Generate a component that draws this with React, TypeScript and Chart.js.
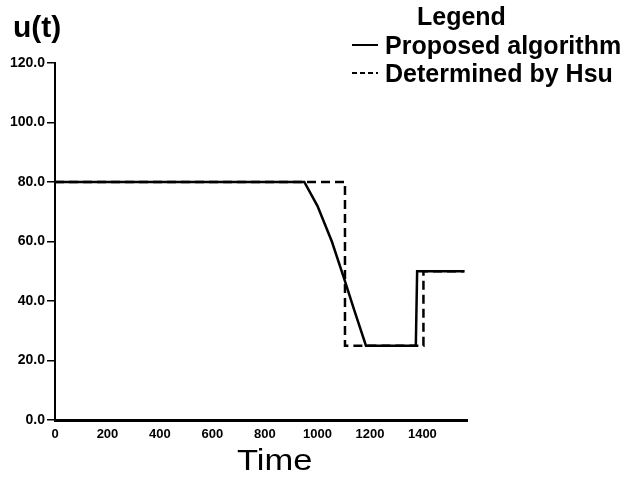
import React, { useEffect, useRef } from "react";
import { Chart, registerables } from "chart.js";

Chart.register(...registerables);

// ---- data ----
const proposedTime = [0, 950, 1000, 1055, 1100, 1140, 1185, 1375, 1380, 1560];
const proposedU = [80, 80, 72, 60, 48, 37, 25, 25, 50, 50];
const hsuTime = [0, 1105, 1105, 1404, 1404, 1560];
const hsuU = [80, 80, 25, 25, 50, 50];
const seriesNames = ["Proposed algorithm", "Determined by Hsu"];
const yTicks = [0, 20, 40, 60, 80, 100, 120];
const xTicks = [0, 200, 400, 600, 800, 1000, 1200, 1400];
const yTitle = "u(t)";
const xTitle = "Time";
const legendTitle = "Legend";

const FONT = "'Liberation Sans', Arial, sans-serif";

const textPlugin = {
  id: "textPlugin",
  afterDraw(chart: any) {
    const ctx = chart.ctx as CanvasRenderingContext2D;
    ctx.save();
    ctx.fillStyle = "#000";
    ctx.textBaseline = "alphabetic";
    ctx.textAlign = "left";
    // y title
    ctx.font = `bold 30px ${FONT}`;
    ctx.fillText(yTitle, 13, 37);
    // legend title
    ctx.font = `bold 25px ${FONT}`;
    ctx.fillText(legendTitle, 417, 25);
    // legend items
    ctx.font = `bold 25px ${FONT}`;
    const rows = [54, 82];
    rows.forEach((by, i) => {
      const my = by - 9;
      ctx.beginPath();
      ctx.lineWidth = 2;
      ctx.strokeStyle = "#000";
      ctx.setLineDash(i === 0 ? [] : [5, 3]);
      ctx.moveTo(352, my);
      ctx.lineTo(378, my);
      ctx.stroke();
      ctx.setLineDash([]);
      ctx.fillText(seriesNames[i], 385, by);
    });
    // x title
    ctx.font = `30px ${FONT}`;
    ctx.save();
    ctx.translate(237, 470);
    ctx.scale(1.15, 1);
    ctx.fillText(xTitle, 0, 0);
    ctx.restore();
    ctx.restore();
  },
};

export default function App() {
  const ref = useRef<HTMLCanvasElement | null>(null);
  useEffect(() => {
    if (!ref.current) return;
    const chart = new Chart(ref.current, {
      type: "line",
      data: {
        datasets: [
          {
            label: seriesNames[0],
            data: proposedTime.map((t, i) => ({ x: t, y: proposedU[i] })),
            borderColor: "#000",
            borderWidth: 2.5,
            pointRadius: 0,
            tension: 0,
            fill: false,
          },
          {
            label: seriesNames[1],
            data: hsuTime.map((t, i) => ({ x: t, y: hsuU[i] })),
            borderColor: "#000",
            borderWidth: 2.5,
            borderDash: [9, 5],
            pointRadius: 0,
            tension: 0,
            fill: false,
          },
        ],
      },
      options: {
        animation: false,
        responsive: false,
        devicePixelRatio: 1,
        layout: { padding: { left: 0, right: 161, top: 63, bottom: 0 } },
        plugins: { legend: { display: false }, tooltip: { enabled: false } },
        scales: {
          x: {
            type: "linear",
            min: 0,
            max: 1570,
            afterFit: (s: any) => {
              s.height = 60;
            },
            afterBuildTicks: (s: any) => {
              s.ticks = xTicks.map((v) => ({ value: v }));
            },
            grid: { display: false, drawTicks: false },
            border: { display: true, color: "#000", width: 3 },
            ticks: {
              padding: 7,
              color: "#000",
              maxRotation: 0,
              autoSkip: false,
              font: { family: FONT, size: 13, weight: "bold" },
              callback: (v: any) => String(v),
            },
          },
          y: {
            min: 0,
            max: 120,
            afterFit: (s: any) => {
              s.width = 55;
            },
            afterBuildTicks: (s: any) => {
              s.ticks = yTicks.map((v) => ({ value: v }));
            },
            grid: {
              display: true,
              drawOnChartArea: false,
              drawTicks: true,
              tickLength: 8,
              color: "#000",
              lineWidth: 1.5,
            },
            border: { display: true, color: "#000", width: 2 },
            ticks: {
              padding: 2,
              color: "#000",
              autoSkip: false,
              font: { family: FONT, size: 14, weight: "bold" },
              callback: (v: any) => Number(v).toFixed(1),
            },
          },
        },
      },
      plugins: [textPlugin],
    });
    return () => chart.destroy();
  }, []);
  return (
    <div style={{ position: "absolute", left: 0, top: 0, width: 628, height: 480, background: "#fff" }}>
      <canvas ref={ref} width={628} height={480} style={{ display: "block" }} />
    </div>
  );
}
